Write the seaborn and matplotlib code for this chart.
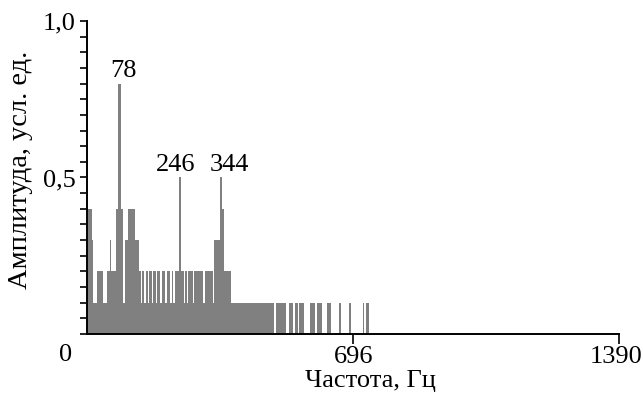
import numpy as np
import pandas as pd
import matplotlib.pyplot as plt
from matplotlib.ticker import MultipleLocator
from matplotlib.transforms import ScaledTranslation
import seaborn as sns

# spectrum: each segment starts at seg_start (Hz) and has amplitude seg_amp
seg_start = [0, 12, 16, 25, 42, 51, 59, 64, 75, 82, 88, 94, 98, 107, 126, 135,
             140, 143, 150, 153, 160, 163, 170, 173, 180, 183, 192, 195, 205, 208,
             218, 221, 226, 229, 240, 246, 253, 256, 262, 265, 276, 279, 304, 307,
             330, 333, 347, 352, 359, 375, 489, 495, 521, 529, 539, 543, 550, 554,
             567, 583, 595, 601, 614, 627, 637, 658, 663, 685, 691, 720, 724, 730]
seg_amp = [0.4, 0.3, 0.1, 0.2, 0.1, 0.2, 0.3, 0.2, 0.4, 0.8, 0.4, 0.1, 0.3, 0.4, 0.3, 0.2,
           0.1, 0.2, 0.1, 0.2, 0.1, 0.2, 0.1, 0.2, 0.1, 0.2, 0.1, 0.2, 0.1, 0.2,
           0.1, 0.2, 0.1, 0.2, 0.5, 0.2, 0.1, 0.2, 0.1, 0.2, 0.1, 0.2, 0.1, 0.2,
           0.1, 0.3, 0.5, 0.4, 0.2, 0.1, 0.0, 0.1, 0.0, 0.1, 0.0, 0.1, 0.0, 0.1,
           0.0, 0.1, 0.0, 0.1, 0.0, 0.1, 0.0, 0.1, 0.0, 0.1, 0.0, 0.1, 0.0, 0.1]
seg_end = 738

peak_labels = ["78", "246", "344"]
label_shift = [4, -4, 9]   # horizontal offset of each label from its peak, in pixels
x_ticks = [696, 1390]
y_ticks = [0.5, 1.0]
y_ticklabels = ["0,5", "1,0"]

edges = seg_start + [seg_end]
df = pd.DataFrame({
    "freq": [(a + b) / 2 for a, b in zip(edges[:-1], edges[1:])],
    "amp": seg_amp,
})

sns.set_style("ticks")
plt.rcParams["font.family"] = "serif"
plt.rcParams["font.serif"] = ["Liberation Serif", "DejaVu Serif"]
plt.rcParams["text.color"] = "black"
plt.rcParams["axes.labelcolor"] = "black"
plt.rcParams["xtick.color"] = "black"
plt.rcParams["ytick.color"] = "black"
fs = 19

fig = plt.figure(figsize=(6.43, 3.94), dpi=100)
ax = fig.add_axes([0.1353, 0.1523, 0.8274, 0.7944])

sns.histplot(data=df, x="freq", weights="amp", bins=edges, color="#808080",
             alpha=1, edgecolor="none", linewidth=0, ax=ax)

# peak labels: the 0.8 peak and the two 0.5 peaks
peak_rows = list(df[df.amp == 0.8].itertuples()) + list(df[df.amp == 0.5].itertuples())
for lab, dx, r in zip(peak_labels, label_shift, peak_rows):
    ax.annotate(lab, (r.freq, r.amp), xytext=(dx * 0.72, 1), textcoords="offset points",
                ha="center", va="bottom", fontsize=fs, color="black")

ax.set_xlim(0, 1390)
ax.set_ylim(0, 1.0)
ax.set_xticks(x_ticks)
ax.set_xticklabels([str(t) for t in x_ticks])
ax.set_yticks(y_ticks)
ax.set_yticklabels(y_ticklabels)
ax.yaxis.set_minor_locator(MultipleLocator(0.05))
ax.tick_params(axis="both", which="both", direction="out", length=5, width=1.2,
               color="black", labelcolor="black", labelsize=fs, pad=3)
ax.tick_params(axis="x", length=7, pad=2)
last = ax.get_xticklabels()[-1]
last.set_transform(last.get_transform() + ScaledTranslation(-3 / 100, 0, fig.dpi_scale_trans))
ax.text(-0.041, -0.067, "0", transform=ax.transAxes, ha="center", va="center",
        fontsize=fs, color="black")

for s in ["top", "right"]:
    ax.spines[s].set_visible(False)
for s in ["left", "bottom"]:
    ax.spines[s].set_linewidth(1.4)
    ax.spines[s].set_color("black")

ax.set_xlabel("Частота, Гц", fontsize=fs, color="black")
ax.set_ylabel("Амплитуда, усл. ед.", fontsize=20.5, color="black")
ax.xaxis.set_label_coords(0.532, -0.115)
ax.yaxis.set_label_coords(-0.102, 0.524)

fig.savefig("out.png", dpi=100)
